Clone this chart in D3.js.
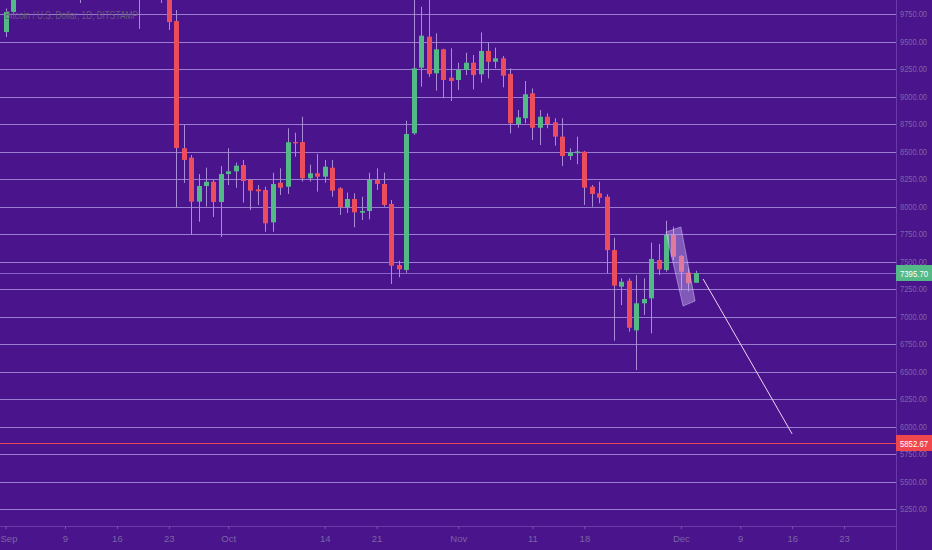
<!DOCTYPE html>
<html><head><meta charset="utf-8">
<script src="https://cdn.jsdelivr.net/npm/d3@7"></script>
<style>html,body{margin:0;padding:0;background:#4a148c;overflow:hidden}svg{display:block}</style>
</head><body>
<script>
// ---------- data (BTC/USD daily, Bitstamp) ----------
const dates = [
"2019-09-01","2019-09-02","2019-09-03","2019-09-04","2019-09-05","2019-09-06","2019-09-07","2019-09-08","2019-09-09","2019-09-10",
"2019-09-11","2019-09-12","2019-09-13","2019-09-14","2019-09-15","2019-09-16","2019-09-17","2019-09-18","2019-09-19","2019-09-20",
"2019-09-21","2019-09-22","2019-09-23","2019-09-24","2019-09-25","2019-09-26","2019-09-27","2019-09-28","2019-09-29","2019-09-30",
"2019-10-01","2019-10-02","2019-10-03","2019-10-04","2019-10-05","2019-10-06","2019-10-07","2019-10-08","2019-10-09","2019-10-10",
"2019-10-11","2019-10-12","2019-10-13","2019-10-14","2019-10-15","2019-10-16","2019-10-17","2019-10-18","2019-10-19","2019-10-20",
"2019-10-21","2019-10-22","2019-10-23","2019-10-24","2019-10-25","2019-10-26","2019-10-27","2019-10-28","2019-10-29","2019-10-30",
"2019-10-31","2019-11-01","2019-11-02","2019-11-03","2019-11-04","2019-11-05","2019-11-06","2019-11-07","2019-11-08","2019-11-09",
"2019-11-10","2019-11-11","2019-11-12","2019-11-13","2019-11-14","2019-11-15","2019-11-16","2019-11-17","2019-11-18","2019-11-19",
"2019-11-20","2019-11-21","2019-11-22","2019-11-23","2019-11-24","2019-11-25","2019-11-26","2019-11-27","2019-11-28","2019-11-29",
"2019-11-30","2019-12-01","2019-12-02","2019-12-03"];
const opens = [
9586,9768,10385,10620,10580,10580,10320,10490,10410,10310,
10100,10160,10420,10360,10350,10310,10250,10200,10170,10270,
10170,9980,10030,9686,8530,8444,8044,8186,8225,8041,
8295,8320,8377,8241,8156,8150,7856,8216,8180,8586,
8586,8256,8302,8271,8353,8165,7993,8068,7944,7959,
8241,8205,8023,7468,7423,8665,9262,9544,9211,9429,
9171,9150,9241,9307,9202,9414,9316,9347,9205,8750,
8802,9029,8716,8816,8765,8635,8459,8485,8498,8180,
8120,8089,7604,7271,7325,6874,7120,7165,7514,7423,
7741,7550,7398,7307];
const highs = [
9800,10440,10790,10790,10650,10900,10540,10590,10480,10380,
10240,10450,10440,10410,10370,10360,10270,10280,10300,10280,
10180,10090,10060,9786,8741,8468,8295,8353,8241,8368,
8530,8398,8423,8250,8195,8180,8307,8347,8711,8671,
8816,8380,8477,8423,8423,8175,8126,8120,8089,8307,
8347,8307,8059,7507,8780,10350,9816,9940,9574,9435,
9438,9307,9398,9377,9583,9489,9444,9368,9256,8877,
9141,9074,8877,8847,8802,8802,8529,8635,8505,8195,
8225,8111,7716,7347,7347,7377,7347,7671,7659,7871,
7817,7559,7438,7416];
const lows = [
9541,9740,10310,10400,10440,10170,10320,10300,10100,10000,
9850,10050,10150,10250,10270,10080,10140,10150,9614,10080,
9960,9850,9604,7995,8214,7741,7862,8000,7905,7723,
8195,8170,8035,7968,8013,7770,7770,8105,8114,8453,
8226,8226,8135,8216,8089,7923,7941,7811,7877,7883,
8150,7998,7295,7356,7398,8652,9089,9180,9053,8984,
8959,9059,9195,9065,9126,9165,9256,9083,8665,8716,
8756,8604,8559,8711,8553,8368,8423,8384,8014,7998,
8029,7393,6780,7104,6862,6513,7014,6847,7377,7407,
7514,7235,7229,7307];
const closes = [
9768,10385,10620,10580,10580,10320,10490,10410,10310,10100,
10160,10420,10360,10350,10310,10250,10200,10170,10270,10170,
9980,10030,9677,8532,8423,8044,8186,8225,8041,8295,
8320,8371,8232,8144,8138,7847,8204,8171,8584,8574,
8256,8302,8271,8362,8144,7993,8068,7947,7959,8241,
8205,8014,7462,7429,8659,9256,9553,9205,9429,9150,
9141,9241,9307,9195,9414,9316,9347,9189,8756,8811,
9020,8716,8816,8750,8635,8459,8489,8500,8171,8114,
8080,7604,7280,7316,6898,7120,7159,7523,7429,7741,
7544,7407,7302,7395.70];

const yTicks = [5250,5500,5750,6000,6250,6500,6750,7000,7250,7500,7750,8000,8250,8500,8750,9000,9250,9500,9750];
const xTickDates  = ["2019-09-01","2019-09-09","2019-09-16","2019-09-23","2019-10-01","2019-10-14","2019-10-21","2019-11-01","2019-11-11","2019-11-18","2019-12-01","2019-12-09","2019-12-16","2019-12-23"];
const xTickLabels = ["Sep","9","16","23","Oct","14","21","Nov","11","18","Dec","9","16","23"];

const title = "Bitcoin / U.S. Dollar, 1D, BITSTAMP";
const lastPrice = 7395.70;
const alertPrice = 5852.67;
// drawings (date, price)
const trendLine = [["2019-12-04",7341],["2019-12-16",5932]];
const highlightBox = [["2019-11-29",7768],["2019-12-01",7814],["2019-12-02T22:00",7141],["2019-12-01T07:00",7095]];

// ---------- layout ----------
const W = 932, H = 550, axisX = 896, axisY = 526;
const FONT = "Liberation Sans, Arial, sans-serif";
const parse = s => new Date(s.length > 10 ? s + "Z" : s + "T00:00Z");

const x = d3.scaleUtc().domain([parse("2019-09-01"), parse("2019-12-23")]).range([5.6, 844.1]);
const y = d3.scaleLinear().domain([9750, 5250]).range([14, 509]);

const svg = d3.select("body").append("svg").attr("width", W).attr("height", H);
svg.append("rect").attr("width", W).attr("height", H).attr("fill", "#4a148c");

svg.append("clipPath").attr("id", "plot").append("rect").attr("width", axisX).attr("height", axisY);

// grid + right axis labels
const yAxis = d3.axisRight(y).tickValues(yTicks).tickFormat(d3.format(".2f")).tickSizeInner(axisX).tickSizeOuter(0).tickPadding(4);
const gy = svg.append("g").call(yAxis);
gy.select(".domain").remove();
gy.selectAll("line").attr("stroke", "#9a7cd0").attr("stroke-width", 1).attr("shape-rendering", "crispEdges");
gy.selectAll("text").attr("fill", "#7c64a6").attr("font-family", FONT)
  .attr("font-size", 8.5).attr("textLength", 27).attr("lengthAdjust", "spacingAndGlyphs");

// axis borders
svg.append("line").attr("x1", axisX + 0.5).attr("x2", axisX + 0.5).attr("y1", 0).attr("y2", H)
  .attr("stroke", "#6a3aa8").attr("stroke-width", 1);
svg.append("line").attr("x1", 0).attr("x2", axisX).attr("y1", axisY + 0.5).attr("y2", axisY + 0.5)
  .attr("stroke", "#6a3aa8").attr("stroke-width", 1);

// bottom axis
const xAxis = d3.axisBottom(x).tickValues(xTickDates.map(parse))
  .tickFormat((d, i) => xTickLabels[i]).tickSizeInner(3).tickSizeOuter(0).tickPadding(6);
const gx = svg.append("g").attr("transform", `translate(0,${axisY})`).call(xAxis);
gx.select(".domain").remove();
gx.selectAll("line").attr("stroke", "#7a52b8");
gx.selectAll("text").attr("fill", "#7c64a6").attr("font-family", FONT).attr("font-size", 9.5);
gx.selectAll("text").filter((d, i) => i === 0).attr("text-anchor", "start").attr("x", -x(parse(xTickDates[0])));

const plot = svg.append("g").attr("clip-path", "url(#plot)");

// current price line
plot.append("line").attr("x1", 0).attr("x2", axisX).attr("y1", Math.round(y(lastPrice)) + 0.5).attr("y2", Math.round(y(lastPrice)) + 0.5)
  .attr("stroke", "#8763c2").attr("stroke-width", 1);

// alert line
plot.append("line").attr("x1", 0).attr("x2", axisX).attr("y1", Math.round(y(alertPrice)) + 0.5).attr("y2", Math.round(y(alertPrice)) + 0.5)
  .attr("stroke", "#e8475a").attr("stroke-width", 1);

// candles
const candles = dates.map((d, i) => ({date: parse(d), o: opens[i], h: highs[i], l: lows[i], c: closes[i]}));
const up = "#53b987", down = "#eb4d5c", bodyW = 5;
const cg = plot.append("g");
cg.selectAll(".wick").data(candles).join("line")
  .attr("x1", d => Math.round(x(d.date)) + 0.5).attr("x2", d => Math.round(x(d.date)) + 0.5)
  .attr("y1", d => y(d.h)).attr("y2", d => y(d.l))
  .attr("stroke", "#a88cd8").attr("stroke-width", 1);
cg.selectAll(".body").data(candles).join("rect")
  .attr("x", d => Math.round(x(d.date)) + 0.5 - bodyW / 2)
  .attr("width", bodyW)
  .attr("y", d => y(Math.max(d.o, d.c)))
  .attr("height", d => Math.max(1, Math.abs(y(d.o) - y(d.c))))
  .attr("fill", d => d.c >= d.o ? up : down);

// highlight box drawing
plot.append("polygon")
  .attr("points", highlightBox.map(p => [x(parse(p[0])), y(p[1])].join(",")).join(" "))
  .attr("fill", "rgba(205,185,245,0.42)").attr("stroke", "rgba(225,210,255,0.45)").attr("stroke-width", 1);

// trend line drawing
plot.append("line")
  .attr("x1", x(parse(trendLine[0][0]))).attr("y1", y(trendLine[0][1]))
  .attr("x2", x(parse(trendLine[1][0]))).attr("y2", y(trendLine[1][1]))
  .attr("stroke", "#ecd6ee").attr("stroke-width", 1);

// title
svg.append("text").attr("x", 5).attr("y", 19).text(title)
  .attr("fill", "#655c78").attr("font-family", FONT).attr("font-size", 10.5)
  .attr("textLength", 133).attr("lengthAdjust", "spacingAndGlyphs");

// price labels
function priceTag(v, color) {
  const cy = Math.round(y(v));
  svg.append("rect").attr("x", axisX).attr("y", cy - 8).attr("width", W - axisX).attr("height", 16).attr("fill", color);
  svg.append("text").attr("x", axisX + 4).attr("y", cy + 3.5).text(d3.format(".2f")(v))
    .attr("fill", "#ffffff").attr("font-family", FONT).attr("font-size", 8.5)
    .attr("textLength", 28).attr("lengthAdjust", "spacingAndGlyphs");
}
priceTag(lastPrice, up);
priceTag(alertPrice, "#f0474f");
</script>
</body></html>
